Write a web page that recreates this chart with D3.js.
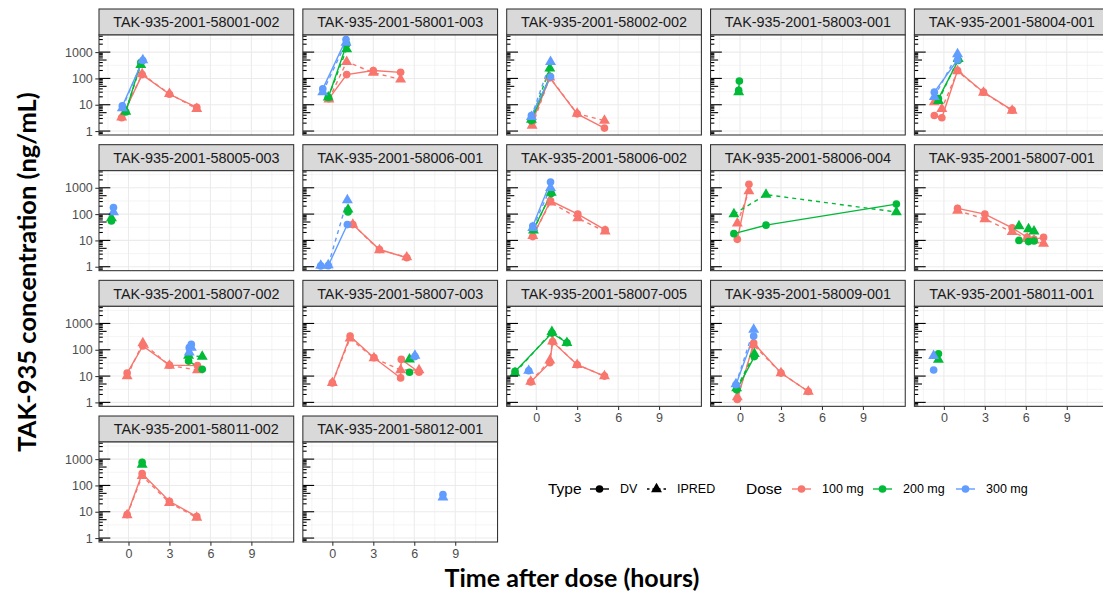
<!DOCTYPE html>
<html>
<head>
<meta charset="utf-8">
<script src="https://cdn.jsdelivr.net/npm/d3@7"></script>
<style>
body { margin: 0; background: #fff; }
svg { display: block; font-family: "Liberation Sans", Arial, sans-serif; }
</style>
</head>
<body>
<script>
var subjects = ["58001-002", "58001-003", "58002-002", "58003-001", "58004-001",
                "58005-003", "58006-001", "58006-002", "58006-004", "58007-001",
                "58007-002", "58007-003", "58007-005", "58009-001", "58011-001",
                "58011-002", "58012-001"];
var doses = ["100 mg", "200 mg", "300 mg"];
var types = ["DV", "IPRED"];
var xTicks = [0, 3, 6, 9];
var yTicks = [1, 10, 100, 1000];

// [subject, time after dose (h), DV, IPRED]
var dose100 = [
  ["58001-002", -0.5, 3.2, 3.3], ["58001-002", 1, 140, 145], ["58001-002", 3, 25, 26], ["58001-002", 5, 8, 7],
  ["58001-003", -0.25, 17, 16], ["58001-003", 1.05, 140, 430], ["58001-003", 3, 200, 165], ["58001-003", 5, 170, 92],
  ["58002-002", -0.3, 2.2, 1.6], ["58002-002", 1, 105, 110], ["58002-002", 3, 4.5, 4.6], ["58002-002", 5, 1.3, 2.5],
  ["58004-001", -0.7, 3.9, 12.5], ["58004-001", -0.15, 3.2, 7], ["58004-001", 1, 200, 190], ["58004-001", 2.9, 30, 29], ["58004-001", 5, 6.2, 6],
  ["58006-001", 1.5, 40, 40], ["58006-001", 3.45, 4.5, 4.3], ["58006-001", 5.45, 2.2, 2.3],
  ["58006-002", -0.25, 14, 15], ["58006-002", 1.05, 320, 280], ["58006-002", 3.05, 100, 70], ["58006-002", 5.05, 25, 22],
  ["58006-004", -0.2, 11, 45], ["58006-004", 0.65, 1350, 750],
  ["58007-001", 1, 165, 135], ["58007-001", 3, 100, 65], ["58007-001", 5, 30, 21], ["58007-001", 6.1, 13, 12], ["58007-001", 6.6, 11, 10], ["58007-001", 7.3, 13, 7.5],
  ["58007-002", -0.1, 13, 10], ["58007-002", 1.05, 140, 180], ["58007-002", 3, 26, 25], ["58007-002", 5.05, 25, 17],
  ["58007-003", 0, 5.5, 5.5], ["58007-003", 1.3, 330, 270], ["58007-003", 3.05, 50, 48], ["58007-003", 5, 8.5, 17], ["58007-003", 5.05, 43, null], ["58007-003", 6.35, 14, 17],
  ["58007-005", -0.4, 6, 6.2], ["58007-005", 1, 32, 40], ["58007-005", 1.2, 200, 210], ["58007-005", 3, 27, 27], ["58007-005", 5, 10, 10],
  ["58009-001", -0.2, 1.3, 1.6], ["58009-001", 1, 180, 150], ["58009-001", 3, 13, 13], ["58009-001", 5, 2.6, 2.6],
  ["58011-002", -0.1, 7.8, 7.5], ["58011-002", 1, 280, 230], ["58011-002", 3, 25, 22], ["58011-002", 5, 6.5, 6]
];
var dose200 = [
  ["58001-002", -0.2, 5.3, 5.5], ["58001-002", 0.9, 400, 330],
  ["58001-003", -0.3, 19, 19], ["58001-003", 1.05, 2000, 1300],
  ["58002-002", -0.35, 2.5, 2.7], ["58002-002", 1, 120, 240],
  ["58003-001", -0.1, 35, 30], ["58003-001", -0.05, 80, null],
  ["58004-001", -0.4, 17, 14], ["58004-001", 1.05, 480, 550],
  ["58005-003", -1.25, 55, 70],
  ["58006-001", 1.15, 120, 150],
  ["58006-002", -0.2, 26, 24], ["58006-002", 1.1, 600, 650],
  ["58006-004", -0.45, 18, 100], ["58006-004", 1.9, 38, 550], ["58006-004", 11.45, 240, 120],
  ["58007-001", 5.5, 10, 35], ["58007-001", 6.2, 9, 27], ["58007-001", 6.6, 9.5, 22],
  ["58007-002", 4.4, 37, 60], ["58007-002", 5.4, 18, 55],
  ["58007-003", 5.65, 14, 43],
  ["58007-005", -1.55, 15, 13], ["58007-005", 1.15, 430, 480], ["58007-005", 2.25, 185, 185],
  ["58009-001", -0.25, 3, 3.5], ["58009-001", 1.05, 55, 70],
  ["58011-001", -0.4, 70, 42],
  ["58011-002", 1, 750, 620]
];
var dose300 = [
  ["58001-002", -0.45, 9, 7.5], ["58001-002", 1.05, 480, 500],
  ["58001-003", -0.7, 40, 30], ["58001-003", 1, 3000, 2300],
  ["58002-002", -0.35, 3.9, 3.5], ["58002-002", 1.05, 115, 430],
  ["58004-001", -0.7, 30, 20], ["58004-001", 1, 500, 850],
  ["58005-003", -1.1, 178, 120],
  ["58006-001", -0.85, 1.07, 1.1], ["58006-001", -0.3, 1.1, 1.15], ["58006-001", 1.1, 40, 340],
  ["58006-002", -0.25, 35, 30], ["58006-002", 1.05, 1650, 1000],
  ["58007-002", 4.45, 120, 80], ["58007-002", 4.6, 160, 120],
  ["58007-003", 6.05, 55, 60],
  ["58007-005", -0.55, 16, 16],
  ["58009-001", -0.3, 4.7, 5], ["58009-001", 1, 330, 580],
  ["58011-001", -0.75, 17, 59],
  ["58012-001", 8.1, 45, 35]
];

var width = 1103,
    height = 593,
    ncol = 5,
    left0 = 99,
    colW = 194.7,
    colPitch = 203.85,
    stripTop0 = 9,
    stripH = 26,
    panelH = 100,
    rowPitch = 135.67;

var colour = d3.scaleOrdinal(doses, ["#F8766D", "#00BA38", "#619CFF"]);

var x = d3.scaleLinear().domain([-2.16, 12.1]).range([0, colW]);
var y = d3.scaleLog().domain([Math.pow(10, -0.15), Math.pow(10, 3.65)]).range([panelH, 0]);

// long format: one record per point
var points = [];
[dose100, dose200, dose300].forEach(function(rows, i) {
  rows.forEach(function(r) {
    if (r[2] != null) points.push({subject: r[0], dose: doses[i], time: r[1], type: "DV", value: r[2]});
    if (r[3] != null) points.push({subject: r[0], dose: doses[i], time: r[1], type: "IPRED", value: r[3]});
  });
});

var svg = d3.select("body").append("svg")
    .attr("width", width)
    .attr("height", height);

svg.append("defs").append("clipPath")
    .attr("id", "panel-clip")
  .append("rect")
    .attr("width", colW)
    .attr("height", panelH);

var line = d3.line()
    .x(function(d) { return x(d.time); })
    .y(function(d) { return y(d.value); });

var circle = d3.symbol().type(d3.symbolCircle).size(46),
    triangle = d3.symbol().type(d3.symbolTriangle).size(52);

var xMinor = [-1.5, 1.5, 4.5, 7.5, 10.5],
    yMinor = [Math.pow(10, 0.5), Math.pow(10, 1.5), Math.pow(10, 2.5), Math.pow(10, 3.5)];

var logTicks = [];
for (var k = -1; k <= 3; k++) {
  for (var m = 1; m <= 9; m++) {
    var v = m * Math.pow(10, k);
    if (v >= y.domain()[0] && v <= y.domain()[1]) logTicks.push({v: v, len: m == 1 ? 11.3 : (m == 5 ? 7.6 : 3.8)});
  }
}

subjects.forEach(function(s, i) {
  var col = i % ncol,
      row = Math.floor(i / ncol),
      px = left0 + col * colPitch,
      sy = stripTop0 + row * rowPitch,
      py = sy + stripH;

  // strip
  svg.append("rect")
      .attr("x", px).attr("y", sy)
      .attr("width", colW).attr("height", stripH)
      .attr("fill", "#D9D9D9")
      .attr("stroke", "#333333")
      .attr("stroke-width", 1.07);
  svg.append("text")
      .attr("x", px + colW / 2).attr("y", sy + stripH / 2)
      .attr("dy", "0.36em")
      .attr("text-anchor", "middle")
      .attr("font-size", 14.4)
      .attr("fill", "#1A1A1A")
      .text("TAK-935-2001-" + s);

  var g = svg.append("g").attr("transform", "translate(" + px + "," + py + ")");

  g.append("rect").attr("width", colW).attr("height", panelH).attr("fill", "#fff");

  var grid = g.append("g").attr("stroke", "#EBEBEB").attr("fill", "none");
  grid.selectAll(".xminor").data(xMinor).enter().append("line")
      .attr("x1", x).attr("x2", x).attr("y1", 0).attr("y2", panelH)
      .attr("stroke-width", 0.55);
  grid.selectAll(".yminor").data(yMinor).enter().append("line")
      .attr("y1", y).attr("y2", y).attr("x1", 0).attr("x2", colW)
      .attr("stroke-width", 0.55);
  grid.selectAll(".xmajor").data(xTicks).enter().append("line")
      .attr("x1", x).attr("x2", x).attr("y1", 0).attr("y2", panelH)
      .attr("stroke-width", 1.07);
  grid.selectAll(".ymajor").data(yTicks).enter().append("line")
      .attr("y1", y).attr("y2", y).attr("x1", 0).attr("x2", colW)
      .attr("stroke-width", 1.07);

  var plot = g.append("g").attr("clip-path", "url(#panel-clip)");
  var mine = points.filter(function(d) { return d.subject == s; });

  var groups = d3.groups(mine, function(d) { return d.dose + "|" + d.type; });
  groups.forEach(function(gr) {
    var pts = gr[1].slice().sort(function(a, b) { return a.time - b.time; });
    if (pts.length < 2) return;
    plot.append("path")
        .attr("d", line(pts))
        .attr("fill", "none")
        .attr("stroke", colour(pts[0].dose))
        .attr("stroke-width", 1.4)
        .attr("stroke-dasharray", pts[0].type == "IPRED" ? "4,4" : null);
  });

  plot.selectAll(".pt")
      .data(mine)
    .enter().append("path")
      .attr("class", "pt")
      .attr("transform", function(d) { return "translate(" + x(d.time) + "," + y(d.value) + ")"; })
      .attr("d", function(d) { return d.type == "DV" ? circle() : triangle(); })
      .attr("fill", function(d) { return colour(d.dose); });

  // log ticks on the left side
  g.selectAll(".logtick")
      .data(logTicks)
    .enter().append("line")
      .attr("x1", 0).attr("x2", function(d) { return d.len; })
      .attr("y1", function(d) { return y(d.v); })
      .attr("y2", function(d) { return y(d.v); })
      .attr("stroke", "#000")
      .attr("stroke-width", 1.1);

  g.append("rect")
      .attr("width", colW).attr("height", panelH)
      .attr("fill", "none")
      .attr("stroke", "#333333")
      .attr("stroke-width", 1.07);

  // y axis on first column
  if (col == 0) {
    var ya = g.append("g")
        .call(d3.axisLeft(y).tickValues(yTicks).tickFormat(d3.format("d")).tickSize(3.7).tickPadding(2.5));
    ya.select(".domain").remove();
    ya.selectAll("line").attr("stroke", "#333333").attr("stroke-width", 1.07);
    ya.selectAll("text").attr("fill", "#4D4D4D").attr("font-size", 12.5)
        .attr("font-family", "Liberation Sans, Arial, sans-serif");
  }

  // x axis on the lowest panel of each column
  if (i + ncol >= subjects.length) {
    var xa = g.append("g")
        .attr("transform", "translate(0," + panelH + ")")
        .call(d3.axisBottom(x).tickValues(xTicks).tickSize(3.7).tickPadding(3.5));
    xa.select(".domain").remove();
    xa.selectAll("line").attr("stroke", "#333333").attr("stroke-width", 1.07);
    xa.selectAll("text").attr("fill", "#4D4D4D").attr("font-size", 12.5)
        .attr("font-family", "Liberation Sans, Arial, sans-serif");
  }
});

// axis titles
svg.append("text")
    .attr("transform", "translate(36,272) rotate(-90)")
    .attr("text-anchor", "middle")
    .attr("font-family", "Lato, 'Open Sans', sans-serif")
    .attr("font-weight", "bold")
    .attr("font-size", 25.5)
    .text("TAK-935 concentration (ng/mL)");

svg.append("text")
    .attr("x", 572).attr("y", 587)
    .attr("text-anchor", "middle")
    .attr("font-family", "Lato, 'Open Sans', sans-serif")
    .attr("font-weight", "bold")
    .attr("font-size", 25)
    .text("Time after dose (hours)");

// legend
var legend = svg.append("g").attr("transform", "translate(0,489)");

legend.append("text").attr("x", 548).attr("dy", "0.35em").attr("font-size", 15.5).attr("fill", "#000").text("Type");
legend.append("text").attr("x", 746).attr("dy", "0.35em").attr("font-size", 15.5).attr("fill", "#000").text("Dose");

var typeKeys = [{label: "DV", x: 590, tx: 620}, {label: "IPRED", x: 647, tx: 677}];
typeKeys.forEach(function(k) {
  legend.append("line")
      .attr("x1", k.x).attr("x2", k.x + 19)
      .attr("stroke", "#000").attr("stroke-width", 1.4)
      .attr("stroke-dasharray", k.label == "IPRED" ? "2.5,3" : null);
  legend.append("path")
      .attr("transform", "translate(" + (k.x + 9.5) + ",0)")
      .attr("d", k.label == "DV" ? circle() : triangle())
      .attr("fill", "#000");
  legend.append("text").attr("x", k.tx).attr("dy", "0.35em").attr("font-size", 12.5).attr("fill", "#000").text(k.label);
});

var doseKeys = [792, 873, 956];
doses.forEach(function(d, i) {
  var kx = doseKeys[i];
  legend.append("line")
      .attr("x1", kx).attr("x2", kx + 19)
      .attr("stroke", colour(d)).attr("stroke-width", 1.4);
  legend.append("path")
      .attr("transform", "translate(" + (kx + 9.5) + ",0)")
      .attr("d", circle())
      .attr("fill", colour(d));
  legend.append("text").attr("x", kx + 30).attr("dy", "0.35em").attr("font-size", 12.5).attr("fill", "#000").text(d);
});
</script>
</body>
</html>
